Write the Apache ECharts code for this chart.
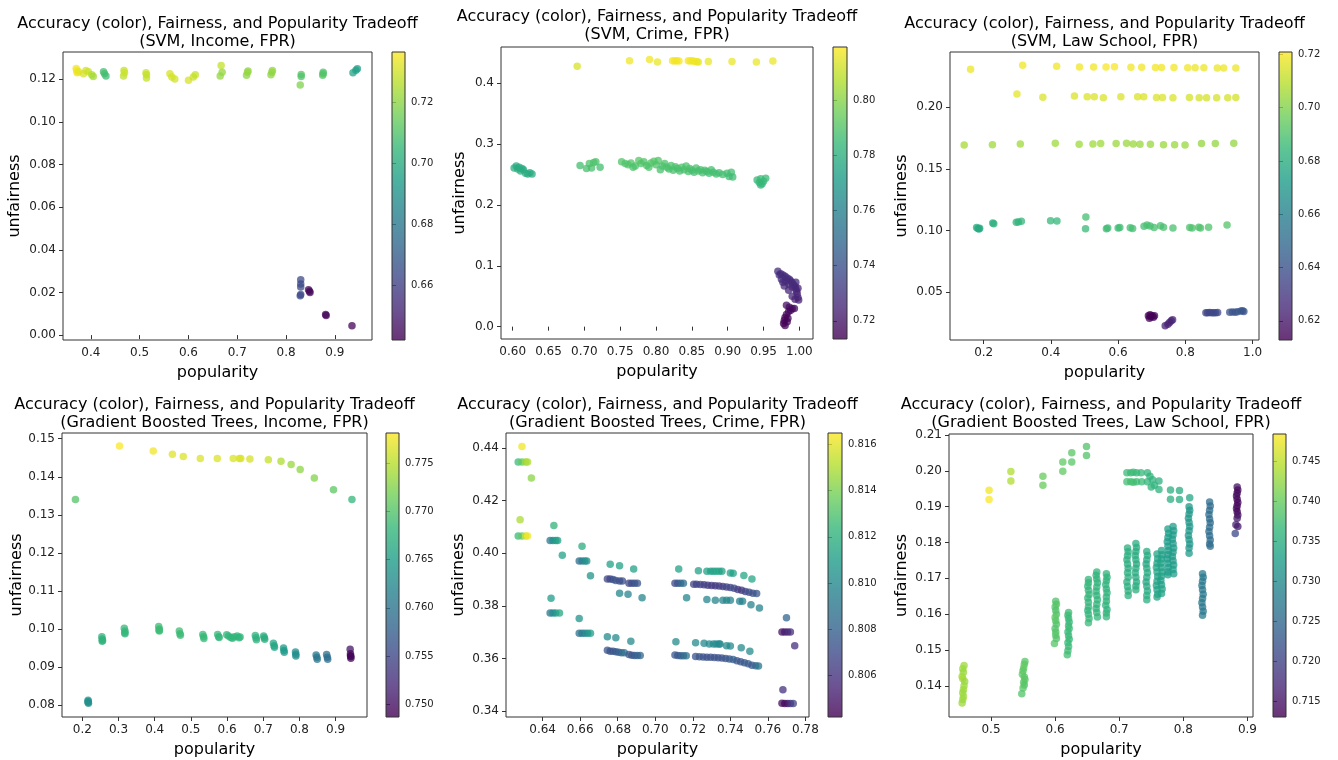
<!DOCTYPE html>
<html>
<head>
<meta charset="utf-8">
<title>Accuracy, Fairness, and Popularity Tradeoff</title>
<script src="https://cdn.jsdelivr.net/npm/echarts@6/dist/echarts.min.js"></script>
<style>
  html, body { margin: 0; padding: 0; background: #fff; }
  #chart { width: 1338px; height: 760px; }
</style>
</head>
<body>
<div id="chart"></div>
<script>
// every point is [popularity, unfairness, accuracy]
const svmIncome = [
  [0.370,0.1250,0.735],[0.371,0.1240,0.735],[0.372,0.1230,0.734],[0.375,0.1235,0.733],
  [0.385,0.1225,0.731],[0.390,0.1240,0.730],[0.395,0.1235,0.729],
  [0.402,0.1220,0.725],[0.405,0.1212,0.723],
  [0.426,0.1235,0.708],[0.428,0.1225,0.708],[0.431,0.1215,0.707],
  [0.467,0.1215,0.727],[0.468,0.1240,0.728],[0.469,0.1230,0.729],
  [0.513,0.1230,0.729],[0.514,0.1220,0.728],[0.514,0.1205,0.728],
  [0.562,0.1225,0.731],[0.566,0.1210,0.730],[0.572,0.1200,0.730],
  [0.600,0.1194,0.731],[0.610,0.1210,0.729],[0.614,0.1220,0.728],
  [0.667,0.1264,0.728],[0.665,0.1215,0.721],[0.669,0.1232,0.721],
  [0.719,0.1218,0.720],[0.721,0.1232,0.721],[0.722,0.1238,0.721],
  [0.769,0.1220,0.720],[0.771,0.1232,0.720],[0.772,0.1240,0.721],
  [0.829,0.1172,0.718],[0.831,0.1222,0.711],[0.831,0.1212,0.710],
  [0.875,0.1218,0.711],[0.876,0.1225,0.711],[0.876,0.1232,0.710],
  [0.937,0.1230,0.697],[0.943,0.1242,0.696],[0.946,0.1248,0.695],
  [0.830,0.0260,0.664],[0.830,0.0240,0.663],[0.830,0.0225,0.664],[0.830,0.0190,0.663],[0.829,0.0185,0.663],
  [0.846,0.0212,0.644],[0.848,0.0205,0.645],[0.849,0.0200,0.644],
  [0.881,0.0097,0.643],[0.882,0.0092,0.643],
  [0.935,0.0044,0.643]
];
const svmCrime = [
  [0.690,0.428,0.813],[0.763,0.437,0.817],[0.791,0.439,0.817],[0.802,0.435,0.816],
  [0.823,0.437,0.818],[0.826,0.4365,0.818],[0.829,0.437,0.817],[0.832,0.4365,0.818],
  [0.845,0.437,0.818],[0.848,0.4365,0.818],[0.851,0.437,0.817],[0.854,0.436,0.817],
  [0.857,0.4355,0.817],[0.859,0.435,0.816],[0.873,0.436,0.816],[0.906,0.436,0.816],
  [0.940,0.435,0.816],[0.963,0.4365,0.816],
  [0.602,0.261,0.779],[0.605,0.264,0.778],[0.607,0.259,0.779],[0.609,0.262,0.778],
  [0.611,0.256,0.779],[0.613,0.260,0.779],[0.615,0.258,0.778],[0.618,0.252,0.779],
  [0.621,0.251,0.778],[0.624,0.253,0.779],[0.627,0.251,0.778],
  [0.694,0.265,0.787],[0.703,0.260,0.788],[0.707,0.268,0.789],[0.710,0.261,0.788],
  [0.713,0.270,0.789],[0.716,0.271,0.789],[0.722,0.262,0.787],
  [0.752,0.271,0.790],[0.757,0.268,0.790],[0.761,0.266,0.789],[0.765,0.269,0.790],
  [0.768,0.262,0.789],[0.771,0.264,0.789],[0.776,0.273,0.791],[0.779,0.268,0.790],
  [0.783,0.271,0.790],[0.787,0.265,0.789],[0.790,0.262,0.789],[0.793,0.269,0.790],
  [0.797,0.272,0.791],[0.800,0.266,0.789],[0.803,0.273,0.790],[0.806,0.258,0.788],
  [0.809,0.264,0.789],[0.812,0.268,0.789],[0.815,0.262,0.789],[0.818,0.259,0.788],
  [0.821,0.265,0.789],[0.824,0.257,0.788],[0.827,0.263,0.789],[0.830,0.260,0.788],
  [0.833,0.256,0.788],[0.836,0.262,0.789],[0.839,0.258,0.788],[0.842,0.264,0.789],
  [0.845,0.255,0.788],[0.847,0.260,0.788],[0.850,0.257,0.788],[0.853,0.254,0.787],
  [0.856,0.261,0.788],[0.859,0.256,0.788],[0.862,0.258,0.788],[0.865,0.253,0.787],
  [0.868,0.257,0.788],[0.871,0.255,0.787],[0.874,0.252,0.787],[0.877,0.258,0.788],
  [0.880,0.254,0.787],[0.884,0.251,0.787],[0.888,0.253,0.787],[0.893,0.250,0.787],
  [0.899,0.252,0.787],[0.902,0.247,0.786],[0.905,0.254,0.787],[0.907,0.246,0.786],
  [0.941,0.241,0.785],[0.944,0.237,0.784],[0.946,0.243,0.785],[0.948,0.235,0.784],
  [0.950,0.239,0.784],[0.953,0.244,0.785],[0.946,0.233,0.784],
  [0.970,0.091,0.727],[0.974,0.087,0.726],[0.977,0.085,0.727],[0.980,0.083,0.726],
  [0.983,0.080,0.726],[0.986,0.078,0.727],[0.988,0.075,0.726],[0.990,0.072,0.726],
  [0.992,0.069,0.726],[0.994,0.066,0.725],[0.995,0.062,0.725],[0.996,0.058,0.726],
  [0.997,0.054,0.725],[0.998,0.048,0.725],[0.999,0.044,0.724],[0.995,0.073,0.727],
  [0.990,0.065,0.726],[0.985,0.070,0.727],[0.981,0.075,0.727],[0.975,0.078,0.728],
  [0.979,0.067,0.726],[0.985,0.060,0.725],[0.990,0.050,0.725],[0.994,0.045,0.724],
  [0.972,0.085,0.727],[0.977,0.073,0.726],[0.998,0.063,0.725],
  [0.982,0.035,0.718],[0.986,0.032,0.717],[0.990,0.030,0.717],[0.985,0.025,0.716],
  [0.982,0.020,0.716],[0.980,0.015,0.715],[0.979,0.010,0.715],[0.978,0.005,0.714],
  [0.980,0.002,0.714],[0.983,0.008,0.715],[0.984,0.014,0.715],[0.988,0.027,0.716],
  [0.993,0.030,0.717]
];
const svmLaw = [
  [0.161,0.2308,0.718],[0.316,0.2340,0.719],[0.417,0.2332,0.719],[0.485,0.2327,0.719],
  [0.527,0.2327,0.719],[0.564,0.2327,0.720],[0.589,0.2328,0.720],[0.638,0.2324,0.719],
  [0.670,0.2324,0.719],[0.711,0.2322,0.719],[0.729,0.2322,0.719],[0.766,0.2322,0.719],
  [0.807,0.2321,0.719],[0.829,0.2321,0.718],[0.855,0.2321,0.718],[0.895,0.2319,0.718],
  [0.914,0.2319,0.718],[0.950,0.2319,0.718],
  [0.299,0.2108,0.717],[0.376,0.2081,0.715],[0.470,0.2092,0.715],[0.508,0.2086,0.715],
  [0.529,0.2086,0.715],[0.556,0.2078,0.715],[0.608,0.2086,0.715],[0.658,0.2086,0.715],
  [0.676,0.2086,0.715],[0.714,0.2080,0.715],[0.732,0.2080,0.715],[0.763,0.2078,0.715],
  [0.812,0.2080,0.714],[0.841,0.2078,0.714],[0.863,0.2078,0.714],[0.893,0.2078,0.714],
  [0.926,0.2078,0.714],[0.950,0.2080,0.714],
  [0.142,0.1695,0.706],[0.226,0.1697,0.705],[0.309,0.1703,0.705],[0.413,0.1708,0.705],
  [0.484,0.1700,0.705],[0.525,0.1703,0.705],[0.548,0.1707,0.705],[0.594,0.1706,0.704],
  [0.625,0.1708,0.704],[0.645,0.1703,0.704],[0.665,0.1700,0.704],[0.696,0.1700,0.704],
  [0.735,0.1697,0.704],[0.768,0.1697,0.704],[0.799,0.1695,0.704],[0.848,0.1706,0.703],
  [0.889,0.1706,0.703],[0.944,0.1709,0.703],
  [0.179,0.1025,0.678],[0.183,0.1018,0.679],[0.188,0.1020,0.678],[0.186,0.1012,0.678],
  [0.227,0.1062,0.681],[0.230,0.1055,0.681],
  [0.297,0.1068,0.683],[0.303,0.1070,0.683],[0.312,0.1075,0.684],
  [0.399,0.1080,0.685],[0.418,0.1078,0.685],
  [0.504,0.1110,0.688],[0.503,0.1015,0.686],
  [0.565,0.1015,0.687],[0.569,0.1022,0.687],[0.600,0.1022,0.687],[0.605,0.1025,0.687],
  [0.636,0.1023,0.688],[0.643,0.1018,0.688],[0.677,0.1035,0.688],[0.686,0.1045,0.689],
  [0.695,0.1038,0.688],[0.707,0.1025,0.689],[0.726,0.1040,0.689],[0.735,0.1028,0.689],
  [0.763,0.1022,0.689],[0.813,0.1025,0.690],[0.820,0.1022,0.690],[0.840,0.1027,0.690],
  [0.845,0.1022,0.690],[0.869,0.1028,0.690],[0.924,0.1045,0.691],
  [0.690,0.0310,0.614],[0.693,0.0290,0.613],[0.697,0.0302,0.613],[0.701,0.0310,0.613],
  [0.705,0.0298,0.614],[0.708,0.0310,0.614],[0.695,0.0318,0.613],
  [0.740,0.0228,0.623],[0.748,0.0240,0.623],[0.753,0.0255,0.624],[0.758,0.0270,0.623],[0.762,0.0278,0.624],
  [0.861,0.0333,0.635],[0.866,0.0333,0.635],[0.872,0.0335,0.636],[0.878,0.0333,0.636],
  [0.884,0.0334,0.636],[0.890,0.0333,0.636],[0.896,0.0336,0.637],
  [0.932,0.0338,0.640],[0.940,0.0340,0.641],[0.948,0.0338,0.641],[0.955,0.0342,0.641],
  [0.965,0.0348,0.642],[0.970,0.0350,0.642],[0.974,0.0345,0.642]
];
const gbtIncome = [
  [0.181,0.1340,0.7700],[0.303,0.1481,0.7780],[0.396,0.1468,0.7775],[0.449,0.1459,0.7768],
  [0.479,0.1453,0.7765],[0.526,0.1448,0.7765],[0.573,0.1448,0.7765],[0.617,0.1448,0.7765],
  [0.634,0.1448,0.7765],[0.638,0.1448,0.7765],[0.663,0.1447,0.7763],[0.714,0.1445,0.7755],
  [0.749,0.1441,0.7745],[0.777,0.1432,0.7735],[0.802,0.1419,0.7730],[0.841,0.1397,0.7725],
  [0.894,0.1366,0.7705],[0.945,0.1340,0.7680],
  [0.216,0.0813,0.7634],[0.216,0.0808,0.7634],[0.217,0.0805,0.7633],[0.216,0.0810,0.7634],
  [0.254,0.0980,0.7677],[0.255,0.0974,0.7677],[0.256,0.0970,0.7676],[0.255,0.0968,0.7677],
  [0.316,0.1002,0.7683],[0.318,0.0995,0.7683],[0.318,0.0988,0.7682],[0.317,0.0990,0.7683],
  [0.411,0.1007,0.7688],[0.413,0.1000,0.7688],[0.413,0.0995,0.7687],[0.412,0.0997,0.7688],
  [0.468,0.0995,0.7688],[0.470,0.0988,0.7688],[0.471,0.0984,0.7687],
  [0.533,0.0986,0.7685],[0.535,0.0980,0.7685],[0.536,0.0975,0.7684],
  [0.574,0.0986,0.7683],[0.577,0.0980,0.7683],[0.578,0.0978,0.7682],
  [0.599,0.0985,0.7680],[0.604,0.0982,0.7680],[0.610,0.0978,0.7680],[0.615,0.0976,0.7679],
  [0.620,0.0980,0.7680],[0.628,0.0982,0.7680],[0.633,0.0977,0.7679],[0.636,0.0979,0.7680],
  [0.678,0.0983,0.7675],[0.680,0.0977,0.7675],[0.681,0.0972,0.7674],
  [0.701,0.0982,0.7670],[0.703,0.0977,0.7670],[0.704,0.0973,0.7669],
  [0.728,0.0963,0.7660],[0.730,0.0956,0.7660],[0.731,0.0952,0.7659],
  [0.756,0.0950,0.7648],[0.757,0.0944,0.7648],[0.758,0.0939,0.7647],
  [0.789,0.0940,0.7633],[0.790,0.0934,0.7633],[0.790,0.0929,0.7632],
  [0.846,0.0932,0.7605],[0.848,0.0926,0.7605],[0.849,0.0921,0.7604],
  [0.875,0.0933,0.7595],[0.877,0.0926,0.7595],[0.878,0.0921,0.7594],
  [0.940,0.0947,0.7505],[0.941,0.0935,0.7495],[0.942,0.0928,0.7490],[0.942,0.0923,0.7490],[0.941,0.0930,0.7490]
];
const gbtCrime = [
  [0.629,0.4406,0.8163],
  [0.627,0.4347,0.8125],[0.629,0.4347,0.8135],[0.631,0.4347,0.8145],[0.632,0.4347,0.8150],
  [0.634,0.4286,0.8143],[0.628,0.4127,0.8149],
  [0.627,0.4066,0.8125],[0.629,0.4066,0.8135],[0.631,0.4066,0.8155],[0.632,0.4066,0.8163],
  [0.646,0.4106,0.8122],
  [0.644,0.4049,0.8092],[0.6455,0.4049,0.8100],[0.647,0.4049,0.8108],[0.648,0.4049,0.8112],
  [0.6505,0.3993,0.8112],[0.661,0.4027,0.8118],
  [0.6595,0.3971,0.8085],[0.661,0.3971,0.8095],[0.6625,0.3971,0.8100],[0.6635,0.3971,0.8105],
  [0.6655,0.3915,0.8105],[0.6445,0.3829,0.8110],
  [0.644,0.3773,0.8090],[0.6455,0.3773,0.8100],[0.647,0.3773,0.8105],[0.649,0.3773,0.8115],
  [0.6595,0.3752,0.8105],
  [0.6595,0.3696,0.8088],[0.661,0.3696,0.8092],[0.6625,0.3696,0.8098],[0.664,0.3696,0.8103],[0.6655,0.3696,0.8110],
  [0.676,0.3958,0.8112],[0.681,0.3953,0.8112],[0.6885,0.3940,0.8112],
  [0.6745,0.3902,0.8068],[0.676,0.3902,0.8068],[0.6775,0.3900,0.8072],[0.679,0.3897,0.8074],
  [0.681,0.3895,0.8070],[0.6825,0.3895,0.8072],
  [0.686,0.3886,0.8068],[0.6875,0.3886,0.8070],[0.689,0.3886,0.8072],[0.6905,0.3886,0.8075],
  [0.681,0.3848,0.8098],[0.6855,0.3844,0.8098],[0.693,0.3831,0.8098],
  [0.6745,0.3683,0.8100],[0.679,0.3679,0.8100],[0.687,0.3666,0.8100],
  [0.6745,0.3632,0.8075],[0.676,0.3628,0.8073],[0.6775,0.3628,0.8075],[0.679,0.3626,0.8075],
  [0.6805,0.3624,0.8078],[0.682,0.3622,0.8082],[0.6835,0.3622,0.8088],
  [0.686,0.3615,0.8075],[0.6875,0.3613,0.8075],[0.689,0.3612,0.8077],[0.6905,0.3612,0.8080],[0.692,0.3612,0.8082],
  [0.7125,0.3940,0.8112],
  [0.7105,0.3886,0.8068],[0.712,0.3886,0.8074],[0.7135,0.3886,0.8080],[0.715,0.3886,0.8085],
  [0.7167,0.3831,0.8098],[0.723,0.3934,0.8112],
  [0.7275,0.3932,0.8112],[0.7295,0.3932,0.8112],[0.731,0.3932,0.8112],[0.7325,0.3932,0.8114],
  [0.734,0.3932,0.8114],[0.7355,0.3932,0.8112],[0.740,0.3925,0.8112],[0.7415,0.3924,0.8112],
  [0.7472,0.3916,0.8114],[0.7515,0.3902,0.8114],
  [0.7205,0.3882,0.8068],[0.722,0.3882,0.8066],[0.724,0.3881,0.8066],[0.726,0.3880,0.8064],
  [0.728,0.3879,0.8064],[0.730,0.3878,0.8062],[0.732,0.3877,0.8062],[0.734,0.3876,0.8064],
  [0.736,0.3874,0.8064],[0.738,0.3872,0.8066],[0.740,0.3870,0.8067],[0.742,0.3867,0.8070],
  [0.744,0.3862,0.8064],[0.746,0.3860,0.8062],[0.748,0.3855,0.8066],[0.750,0.3852,0.8070],
  [0.752,0.3848,0.8072],[0.754,0.3847,0.8075],
  [0.7275,0.3824,0.8098],[0.732,0.3822,0.8098],[0.736,0.3822,0.8098],[0.738,0.3822,0.8098],
  [0.740,0.3822,0.8098],[0.745,0.3818,0.8096],[0.7465,0.3818,0.8096],[0.751,0.3804,0.8096],[0.7555,0.3792,0.8096],
  [0.711,0.3664,0.8100],[0.7215,0.3660,0.8100],[0.726,0.3658,0.8100],[0.7288,0.3655,0.8100],
  [0.731,0.3655,0.8100],[0.7325,0.3655,0.8100],[0.734,0.3655,0.8100],[0.7345,0.3655,0.8100],
  [0.738,0.3649,0.8100],[0.740,0.3648,0.8100],[0.7458,0.3641,0.8100],[0.7504,0.3628,0.8100],
  [0.7105,0.3614,0.8075],[0.712,0.3612,0.8075],[0.7135,0.3611,0.8078],[0.715,0.3611,0.8082],[0.7165,0.3611,0.8088],
  [0.7215,0.3608,0.8075],[0.7235,0.3607,0.8075],[0.7255,0.3606,0.8073],[0.7275,0.3605,0.8072],
  [0.7295,0.3605,0.8072],[0.7315,0.3604,0.8072],[0.7335,0.3603,0.8072],[0.7355,0.3602,0.8073],
  [0.7375,0.3600,0.8075],[0.7395,0.3598,0.8075],[0.7415,0.3596,0.8080],[0.7435,0.3592,0.8075],
  [0.7455,0.3588,0.8075],[0.7475,0.3584,0.8077],[0.7495,0.3580,0.8078],[0.7515,0.3575,0.8075],
  [0.7535,0.3573,0.8082],[0.755,0.3572,0.8090],
  [0.7699,0.3755,0.8082],
  [0.7675,0.3701,0.8048],[0.769,0.3701,0.8050],[0.7705,0.3701,0.8055],[0.772,0.3701,0.8058],
  [0.7743,0.3649,0.8060],[0.768,0.3482,0.8060],
  [0.7675,0.3430,0.8045],[0.769,0.3429,0.8044],[0.7705,0.3429,0.8048],[0.772,0.3429,0.8058],[0.7735,0.3429,0.8066]
];
const gbtLaw = [
  [0.497,0.1946,0.7478],[0.497,0.1920,0.7482],[0.531,0.1998,0.7440],[0.531,0.1972,0.7440],
  [0.581,0.1985,0.7400],[0.581,0.1960,0.7400],[0.612,0.2025,0.7395],[0.612,0.1999,0.7395],
  [0.626,0.2051,0.7390],[0.626,0.2025,0.7390],[0.649,0.2068,0.7385],[0.649,0.2043,0.7385],
  [0.712,0.1995,0.7370],[0.718,0.1995,0.7370],[0.722,0.1996,0.7372],[0.727,0.1995,0.7368],
  [0.734,0.1995,0.7366],[0.744,0.1995,0.7362],[0.712,0.1970,0.7375],[0.718,0.1970,0.7375],
  [0.722,0.1968,0.7378],[0.727,0.1970,0.7372],[0.735,0.1970,0.7370],[0.744,0.1970,0.7362],
  [0.748,0.1985,0.7360],[0.752,0.1975,0.7358],[0.755,0.1960,0.7356],[0.750,0.1955,0.7360],
  [0.762,0.1972,0.7354],[0.762,0.1948,0.7356],[0.780,0.1947,0.7350],[0.780,0.1921,0.7350],
  [0.794,0.1945,0.7346],[0.794,0.1920,0.7346],[0.810,0.1925,0.7340],
  [0.458,0.1457,0.7430],[0.456,0.1448,0.7432],[0.457,0.1438,0.7428],[0.455,0.1426,0.7434],
  [0.456,0.1420,0.7436],[0.459,0.1412,0.7428],[0.458,0.1400,0.7430],[0.457,0.1390,0.7432],
  [0.456,0.1381,0.7428],[0.457,0.1370,0.7432],[0.456,0.1362,0.7430],[0.455,0.1352,0.7430],
  [0.553,0.1468,0.7390],[0.552,0.1460,0.7392],[0.551,0.1450,0.7396],[0.550,0.1442,0.7392],
  [0.549,0.1432,0.7396],[0.552,0.1425,0.7390],[0.553,0.1418,0.7390],[0.551,0.1410,0.7392],
  [0.552,0.1402,0.7386],[0.550,0.1394,0.7390],[0.548,0.1378,0.7386],
  [0.601,0.1636,0.7385],[0.602,0.1628,0.7385],[0.600,0.1620,0.7390],[0.601,0.1610,0.7385],
  [0.602,0.1600,0.7385],[0.600,0.1591,0.7395],[0.601,0.1582,0.7390],[0.602,0.1572,0.7385],
  [0.600,0.1560,0.7385],[0.601,0.1550,0.7385],[0.601,0.1541,0.7390],[0.602,0.1532,0.7385],[0.599,0.1518,0.7388],
  [0.621,0.1605,0.7372],[0.620,0.1597,0.7372],[0.621,0.1588,0.7368],[0.622,0.1578,0.7368],
  [0.621,0.1568,0.7368],[0.622,0.1560,0.7372],[0.620,0.1550,0.7368],[0.621,0.1540,0.7368],
  [0.622,0.1530,0.7368],[0.620,0.1520,0.7368],[0.621,0.1510,0.7370],[0.620,0.1498,0.7370],[0.619,0.1487,0.7374],
  [0.652,0.1697,0.7364],[0.652,0.1688,0.7364],[0.651,0.1678,0.7366],[0.652,0.1667,0.7360],
  [0.653,0.1655,0.7364],[0.651,0.1645,0.7364],[0.652,0.1633,0.7360],[0.652,0.1620,0.7364],
  [0.651,0.1610,0.7360],[0.652,0.1600,0.7364],[0.653,0.1588,0.7366],[0.652,0.1576,0.7368],
  [0.665,0.1718,0.7362],[0.664,0.1709,0.7362],[0.665,0.1698,0.7360],[0.666,0.1688,0.7358],
  [0.665,0.1676,0.7362],[0.664,0.1664,0.7362],[0.665,0.1652,0.7358],[0.666,0.1640,0.7362],
  [0.665,0.1628,0.7362],[0.664,0.1616,0.7360],[0.665,0.1605,0.7364],[0.666,0.1592,0.7364],
  [0.680,0.1713,0.7360],[0.681,0.1703,0.7360],[0.680,0.1693,0.7356],[0.679,0.1682,0.7360],
  [0.680,0.1670,0.7356],[0.681,0.1660,0.7360],[0.680,0.1648,0.7356],[0.680,0.1636,0.7360],
  [0.679,0.1625,0.7360],[0.681,0.1613,0.7356],[0.680,0.1603,0.7360],[0.680,0.1593,0.7364],
  [0.713,0.1785,0.7352],[0.714,0.1774,0.7350],[0.713,0.1763,0.7350],[0.712,0.1752,0.7352],
  [0.713,0.1740,0.7350],[0.714,0.1728,0.7346],[0.713,0.1716,0.7350],[0.714,0.1703,0.7350],
  [0.712,0.1690,0.7350],[0.713,0.1677,0.7352],[0.714,0.1665,0.7350],[0.714,0.1652,0.7354],
  [0.726,0.1797,0.7348],[0.727,0.1786,0.7348],[0.726,0.1775,0.7344],[0.725,0.1764,0.7348],
  [0.726,0.1752,0.7348],[0.727,0.1740,0.7344],[0.726,0.1728,0.7348],[0.725,0.1716,0.7348],
  [0.726,0.1703,0.7344],[0.727,0.1690,0.7348],[0.726,0.1679,0.7348],[0.726,0.1668,0.7352],
  [0.743,0.1775,0.7346],[0.744,0.1764,0.7346],[0.743,0.1752,0.7344],[0.742,0.1740,0.7340],
  [0.743,0.1728,0.7346],[0.744,0.1716,0.7346],[0.743,0.1703,0.7344],[0.742,0.1690,0.7340],
  [0.743,0.1678,0.7346],[0.744,0.1665,0.7346],[0.743,0.1652,0.7350],[0.743,0.1640,0.7350],
  [0.759,0.1768,0.7336],[0.760,0.1755,0.7336],[0.759,0.1742,0.7332],[0.758,0.1730,0.7336],
  [0.759,0.1718,0.7336],[0.760,0.1705,0.7332],[0.759,0.1692,0.7336],[0.758,0.1680,0.7336],
  [0.759,0.1668,0.7332],[0.760,0.1656,0.7336],[0.759,0.1648,0.7340],
  [0.766,0.1778,0.7334],[0.767,0.1766,0.7330],[0.766,0.1754,0.7330],[0.765,0.1742,0.7334],
  [0.766,0.1730,0.7330],[0.767,0.1718,0.7330],[0.766,0.1706,0.7334],[0.765,0.1694,0.7330],
  [0.766,0.1682,0.7330],[0.767,0.1670,0.7334],[0.766,0.1658,0.7334],
  [0.776,0.1838,0.7328],[0.777,0.1826,0.7325],[0.776,0.1814,0.7325],[0.775,0.1802,0.7322],
  [0.776,0.1790,0.7325],[0.777,0.1778,0.7325],[0.776,0.1766,0.7322],[0.775,0.1754,0.7325],
  [0.776,0.1742,0.7325],[0.777,0.1730,0.7322],[0.776,0.1718,0.7325],[0.776,0.1710,0.7328],
  [0.784,0.1845,0.7325],[0.785,0.1833,0.7322],[0.784,0.1821,0.7322],[0.783,0.1809,0.7325],
  [0.784,0.1797,0.7322],[0.785,0.1785,0.7322],[0.784,0.1773,0.7322],[0.783,0.1761,0.7325],
  [0.784,0.1749,0.7322],[0.785,0.1737,0.7322],[0.784,0.1725,0.7325],[0.785,0.1713,0.7325],
  [0.809,0.1900,0.7320],[0.810,0.1890,0.7318],[0.809,0.1880,0.7318],[0.808,0.1868,0.7320],
  [0.809,0.1856,0.7318],[0.810,0.1845,0.7318],[0.809,0.1833,0.7315],[0.808,0.1820,0.7318],
  [0.809,0.1808,0.7318],[0.810,0.1796,0.7318],[0.809,0.1785,0.7315],[0.809,0.1770,0.7320],
  [0.830,0.1713,0.7275],[0.831,0.1703,0.7272],[0.830,0.1692,0.7272],[0.829,0.1680,0.7272],
  [0.830,0.1668,0.7270],[0.831,0.1656,0.7272],[0.830,0.1644,0.7272],[0.829,0.1632,0.7272],
  [0.830,0.1620,0.7270],[0.831,0.1608,0.7272],[0.830,0.1597,0.7275],
  [0.841,0.1913,0.7256],[0.842,0.1902,0.7254],[0.841,0.1890,0.7254],[0.840,0.1878,0.7256],
  [0.841,0.1866,0.7254],[0.842,0.1855,0.7254],[0.841,0.1843,0.7256],[0.840,0.1831,0.7254],
  [0.841,0.1819,0.7254],[0.842,0.1807,0.7256],[0.841,0.1796,0.7254],[0.842,0.1790,0.7256],
  [0.884,0.1955,0.7145],[0.885,0.1947,0.7142],[0.884,0.1938,0.7135],[0.883,0.1930,0.7142],
  [0.884,0.1921,0.7140],[0.885,0.1912,0.7135],[0.884,0.1903,0.7135],[0.883,0.1895,0.7142],
  [0.884,0.1886,0.7135],[0.885,0.1877,0.7142],[0.884,0.1868,0.7150],[0.882,0.1850,0.7165],
  [0.885,0.1845,0.7155],[0.881,0.1825,0.7208]
];

// tick values
const svmIncomeXTicks = [0.4, 0.5, 0.6, 0.7, 0.8, 0.9];
const svmIncomeYTicks = [0, 0.02, 0.04, 0.06, 0.08, 0.10, 0.12];
const svmIncomeCTicks = [0.66, 0.68, 0.70, 0.72];
const svmCrimeXTicks = [0.60, 0.65, 0.70, 0.75, 0.80, 0.85, 0.90, 0.95, 1.00];
const svmCrimeYTicks = [0, 0.1, 0.2, 0.3, 0.4];
const svmCrimeCTicks = [0.72, 0.74, 0.76, 0.78, 0.80];
const svmLawXTicks = [0.2, 0.4, 0.6, 0.8, 1.0];
const svmLawYTicks = [0.05, 0.10, 0.15, 0.20];
const svmLawCTicks = [0.62, 0.64, 0.66, 0.68, 0.70, 0.72];
const gbtIncomeXTicks = [0.2, 0.3, 0.4, 0.5, 0.6, 0.7, 0.8, 0.9];
const gbtIncomeYTicks = [0.08, 0.09, 0.10, 0.11, 0.12, 0.13, 0.14, 0.15];
const gbtIncomeCTicks = [0.750, 0.755, 0.760, 0.765, 0.770, 0.775];
const gbtCrimeXTicks = [0.64, 0.66, 0.68, 0.70, 0.72, 0.74, 0.76, 0.78];
const gbtCrimeYTicks = [0.34, 0.36, 0.38, 0.40, 0.42, 0.44];
const gbtCrimeCTicks = [0.806, 0.808, 0.810, 0.812, 0.814, 0.816];
const gbtLawXTicks = [0.5, 0.6, 0.7, 0.8, 0.9];
const gbtLawYTicks = [0.14, 0.15, 0.16, 0.17, 0.18, 0.19, 0.20, 0.21];
const gbtLawCTicks = [0.715, 0.720, 0.725, 0.730, 0.735, 0.740, 0.745];

const viridis = ['#440154', '#482878', '#3e4989', '#31688e', '#26828e',
  '#1f9e89', '#35b779', '#6ece58', '#b5de2b', '#fde725'];
const font = 'DejaVu Sans';
const head = 'Accuracy (color), Fairness, and Popularity Tradeoff\n';

// layout: plot box and colorbar box as [left, top, right, bottom]
const panels = [
  { title: head + '(SVM, Income, FPR)', titleTop: 15, data: svmIncome,
    plot: [63, 52, 372, 340], cbar: [392, 52, 405, 340],
    xRange: [0.343, 0.976], yRange: [-0.0023, 0.1327], cRange: [0.642, 0.7364],
    xTicks: svmIncomeXTicks, yTicks: svmIncomeYTicks, cTicks: svmIncomeCTicks, dec: [1, 2, 2], yGap: 40 },
  { title: head + '(SVM, Crime, FPR)', titleTop: 8, data: svmCrime,
    plot: [501, 47, 813, 339], cbar: [833, 47, 847, 339],
    xRange: [0.5837, 1.019], yRange: [-0.0203, 0.4597], cRange: [0.7134, 0.8192],
    xTicks: svmCrimeXTicks, yTicks: svmCrimeYTicks, cTicks: svmCrimeCTicks, dec: [2, 1, 2], yGap: 33 },
  { title: head + '(SVM, Law School, FPR)', titleTop: 15, data: svmLaw,
    plot: [950, 52, 1259, 340], cbar: [1279, 52, 1292, 340],
    xRange: [0.0998, 1.019], yRange: [0.0113, 0.2448], cRange: [0.6128, 0.7209],
    xTicks: svmLawXTicks, yTicks: svmLawYTicks, cTicks: svmLawCTicks, dec: [1, 2, 2], yGap: 40 },
  { title: head + '(Gradient Boosted Trees, Income, FPR)', titleTop: 396, data: gbtIncome,
    plot: [62, 433, 367, 717], cbar: [386, 433, 399, 717],
    xRange: [0.1439, 0.9866], yRange: [0.0769, 0.1515], cRange: [0.7487, 0.7781],
    xTicks: gbtIncomeXTicks, yTicks: gbtIncomeYTicks, cTicks: gbtIncomeCTicks, dec: [1, 2, 3], yGap: 36 },
  { title: head + '(Gradient Boosted Trees, Crime, FPR)', titleTop: 396, data: gbtCrime,
    plot: [506, 433, 809, 717], cbar: [828, 433, 842, 717],
    xRange: [0.6205, 0.7819], yRange: [0.3378, 0.4457], cRange: [0.8042, 0.8165],
    xTicks: gbtCrimeXTicks, yTicks: gbtCrimeYTicks, cTicks: gbtCrimeCTicks, dec: [2, 2, 3], yGap: 39 },
  { title: head + '(Gradient Boosted Trees, Law School, FPR)', titleTop: 396, data: gbtLaw,
    plot: [949, 434, 1253, 717], cbar: [1273, 434, 1286, 717],
    xRange: [0.4345, 0.9087], yRange: [0.1313, 0.2103], cRange: [0.713, 0.7484],
    xTicks: gbtLawXTicks, yTicks: gbtLawYTicks, cTicks: gbtLawCTicks, dec: [1, 2, 3], yGap: 39 }
];

const rgba = (hex, a) => {
  const n = parseInt(hex.slice(1), 16);
  return `rgba(${n >> 16},${(n >> 8) & 255},${n & 255},${a})`;
};
const barStops = viridis.map((c, i) => ({ offset: i / (viridis.length - 1), color: rgba(c, 0.8) }));

const option = {
  animation: false,
  backgroundColor: '#fff',
  title: [], grid: [], xAxis: [], yAxis: [], visualMap: [], series: [], graphic: []
};

panels.forEach((p, i) => {
  const [l, t, r, b] = p.plot;
  const [cl, ct, cr, cb] = p.cbar;
  const tick = { length: 4, lineStyle: { color: '#333', width: 1 } };
  const label = { fontFamily: font, fontSize: 12, color: '#222' };

  option.title.push({
    text: p.title, left: (l + r) / 2, top: p.titleTop, textAlign: 'center', padding: 0,
    textStyle: { fontFamily: font, fontSize: 16, fontWeight: 'normal', color: '#000', lineHeight: 18 }
  });

  option.grid.push(
    { left: l, top: t, width: r - l, height: b - t, show: true, borderColor: '#333', borderWidth: 1, outerBoundsMode: 'none' },
    { left: cl, top: ct, width: cr - cl, height: cb - ct, outerBoundsMode: 'none' }
  );

  option.xAxis.push(
    {
      gridIndex: 2 * i, type: 'value', min: p.xRange[0], max: p.xRange[1],
      name: 'popularity', nameLocation: 'middle', nameGap: 25,
      nameTextStyle: { fontFamily: font, fontSize: 16, color: '#000' },
      axisLine: { show: false }, splitLine: { show: false },
      axisTick: Object.assign({ customValues: p.xTicks }, tick),
      axisLabel: Object.assign({ customValues: p.xTicks, margin: 7, formatter: v => v.toFixed(p.dec[0]) }, label)
    },
    { gridIndex: 2 * i + 1, type: 'value', show: false, min: 0, max: 1 }
  );

  option.yAxis.push(
    {
      gridIndex: 2 * i, type: 'value', min: p.yRange[0], max: p.yRange[1],
      name: 'unfairness', nameLocation: 'middle', nameGap: p.yGap,
      nameTextStyle: { fontFamily: font, fontSize: 16, color: '#000' },
      axisLine: { show: false }, splitLine: { show: false },
      axisTick: Object.assign({ customValues: p.yTicks }, tick),
      axisLabel: Object.assign({ customValues: p.yTicks, margin: 7, formatter: v => v.toFixed(p.dec[1]) }, label)
    },
    {
      gridIndex: 2 * i + 1, type: 'value', position: 'right', min: p.cRange[0], max: p.cRange[1],
      axisLine: { show: false }, splitLine: { show: false },
      axisTick: Object.assign({ customValues: p.cTicks }, tick),
      axisLabel: { customValues: p.cTicks, margin: 6, fontFamily: font, fontSize: 10, color: '#222',
        formatter: v => v.toFixed(p.dec[2]) }
    }
  );

  option.visualMap.push({
    show: false, seriesIndex: i, dimension: 2, min: p.cRange[0], max: p.cRange[1],
    inRange: { color: viridis }
  });

  option.series.push({
    type: 'scatter', xAxisIndex: 2 * i, yAxisIndex: 2 * i, data: p.data,
    symbolSize: 7.5, itemStyle: { opacity: 0.75 }, silent: true
  });

  option.graphic.push({
    type: 'rect', silent: true, z: 5,
    shape: { x: cl, y: ct, width: cr - cl, height: cb - ct },
    style: { fill: { type: 'linear', x: 0, y: 1, x2: 0, y2: 0, colorStops: barStops }, stroke: '#333', lineWidth: 1 }
  });
});

const chart = echarts.init(document.getElementById('chart'));
chart.setOption(option);
window.addEventListener('resize', () => chart.resize());
</script>
</body>
</html>
